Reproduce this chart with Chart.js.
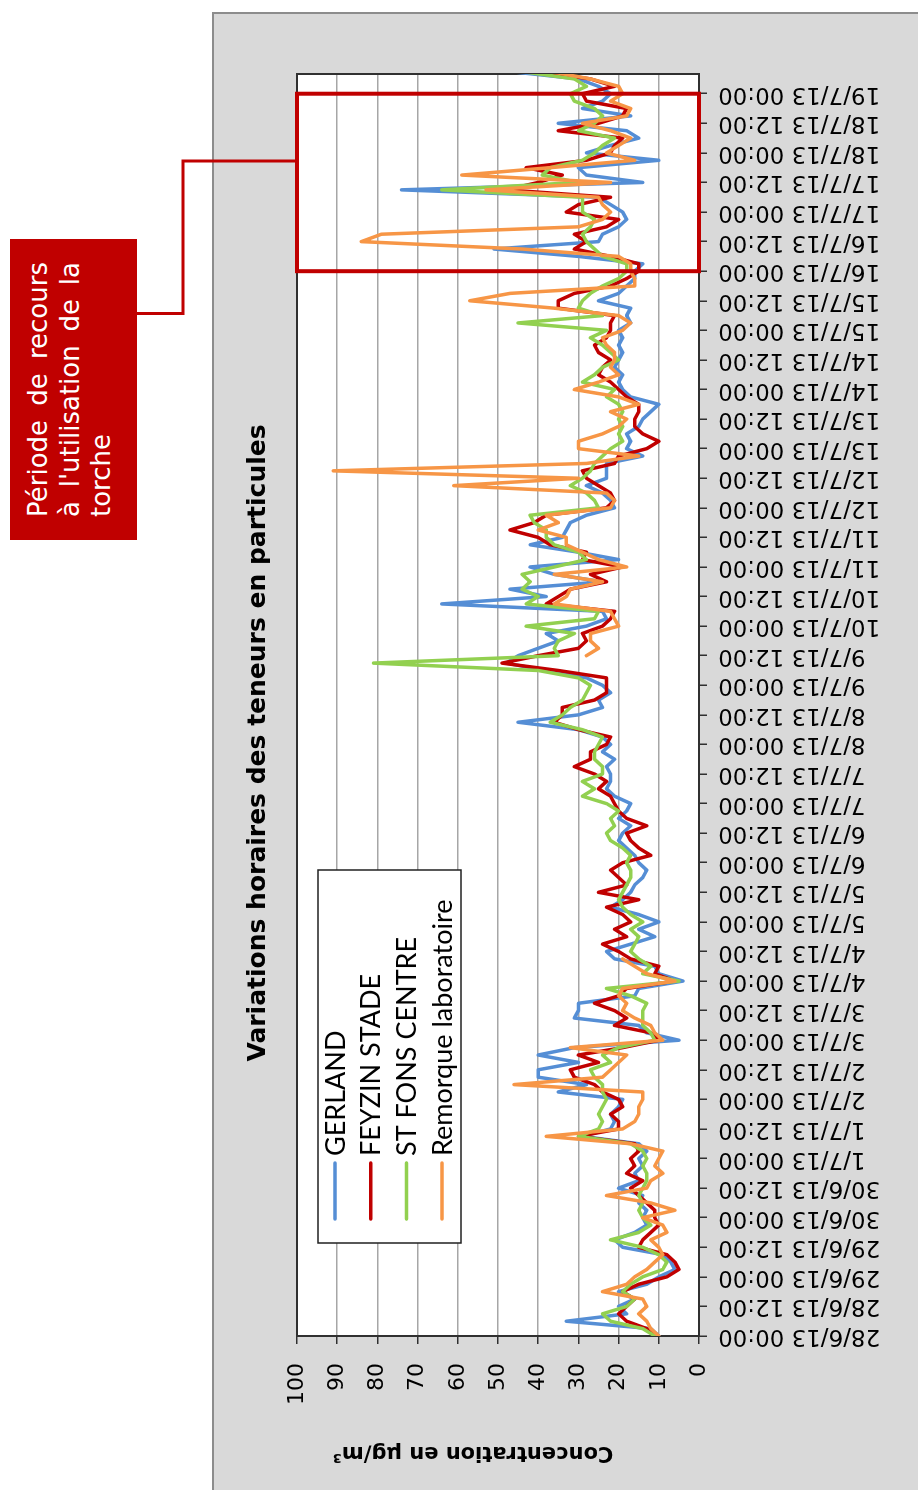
<!DOCTYPE html>
<html><head><meta charset="utf-8">
<script src="https://cdn.jsdelivr.net/npm/chart.js@4.4.0/dist/chart.umd.min.js"></script>
<style>
html,body{margin:0;padding:0;background:#fff;}
body{width:918px;height:1490px;overflow:hidden;position:relative;}
#frame{position:absolute;left:0;top:0;width:1490px;height:918px;transform-origin:0 0;transform:translateY(1490px) rotate(-90deg);}
#panel{position:absolute;left:0;top:212px;width:1478px;height:706px;background:#D9D9D9;border-top:2px solid #8C8C8C;border-right:2px solid #8C8C8C;box-sizing:border-box;}
#chart{position:absolute;left:0;top:213px;width:1476px;height:705px;}
#note{position:absolute;left:950px;top:10px;width:301px;height:127px;background:#C00000;color:#fff;font-family:'DejaVu Sans';font-size:26px;box-sizing:border-box;padding:13px 23px 0 23px;}
#note div{height:31.5px;line-height:31.5px;white-space:nowrap;}
#note .j{text-align:justify;text-align-last:justify;}
#link{position:absolute;left:0;top:0;}
</style></head>
<body>
<div id="frame">
  <div id="panel"></div>
  <canvas id="chart" width="1476" height="705"></canvas>
  <div id="note"><div class="j">Période de recours</div><div class="j">à l'utilisation de la</div><div>torche</div></div>
  <svg id="link" width="1490" height="918"><polyline points="1176.5,137 1176.5,183 1329,183 1329,297" fill="none" stroke="#C00000" stroke-width="3"/></svg>
</div>
<script>
// hours since 28/6/13 00:00, one value every 3 hours
const hours = Array.from({length: 172}, (_, i) => i * 3);

const tickLabels = [
 "28/6/13 00:00","28/6/13 12:00","29/6/13 00:00","29/6/13 12:00","30/6/13 00:00","30/6/13 12:00",
 "1/7/13 00:00","1/7/13 12:00","2/7/13 00:00","2/7/13 12:00","3/7/13 00:00","3/7/13 12:00",
 "4/7/13 00:00","4/7/13 12:00","5/7/13 00:00","5/7/13 12:00","6/7/13 00:00","6/7/13 12:00",
 "7/7/13 00:00","7/7/13 12:00","8/7/13 00:00","8/7/13 12:00","9/7/13 00:00","9/7/13 12:00",
 "10/7/13 00:00","10/7/13 12:00","11/7/13 00:00","11/7/13 12:00","12/7/13 00:00","12/7/13 12:00",
 "13/7/13 00:00","13/7/13 12:00","14/7/13 00:00","14/7/13 12:00","15/7/13 00:00","15/7/13 12:00",
 "16/7/13 00:00","16/7/13 12:00","17/7/13 00:00","17/7/13 12:00","18/7/13 00:00","18/7/13 12:00",
 "19/7/13 00:00"];

const yTicks = [0,10,20,30,40,50,60,70,80,90,100];

const gerland = [10,12,33,18,20,16,20,13,10,6,7,9,19,21,16,13,14,13,15,14,20,15,16,14,15,13,15,29,22,21,22,
 20,19,35,28,40,40,30,40,31,5,13,15,31,30,30,16,15,4,10,11,21,23,17,11,15,10,15,22,
 19,17,16,14,13,15,16,18,20,19,17,20,18,17,21,23,22,22,23,21,24,22,24,30,45,30,24,25,22,
 24,28,38,48,45,40,35,38,28,23,24,64,38,47,24,36,42,20,30,42,34,33,32,28,21,22,24,28,
 23,23,23,14,18,17,18,15,14,12,10,17,19,20,19,21,20,19,20,19,20,17,18,17,25,20,18,16,
 16,14,30,51,25,24,20,18,19,22,25,74,14,28,30,10,28,22,15,18,35,17,29,24,22,25,30,47];

const feyzin = [11,13,18,20,18,16,19,15,8,5,6,8,15,14,12,10,11,11,13,15,17,14,18,16,17,15,16,30,20,20,22,
 19,20,24,26,31,32,25,30,19,10,12,21,18,21,26,20,18,6,11,10,17,20,24,18,21,17,19,23,
 15,25,18,20,22,19,12,15,17,18,13,18,20,21,22,25,23,26,31,27,27,23,22,30,36,34,34,26,23,
 23,23,35,49,40,30,28,29,24,22,21,38,35,32,23,27,19,29,28,37,40,47,41,38,23,21,22,25,
 28,29,21,20,13,10,14,16,16,15,15,18,20,22,25,24,22,25,26,23,22,22,21,35,35,31,22,18,
 15,15,22,31,28,31,23,20,33,30,22,48,40,34,43,28,22,21,19,35,25,19,18,28,29,21,27,40];

const stFons = [11,14,22,24,18,16,19,17,14,9,8,10,14,22,15,12,14,15,14,15,14,13,13,14,13,14,17,30,25,24,25,
 24,23,24,24,26,27,22,24,20,11,12,14,14,14,13,17,23,5,14,12,15,17,16,15,17,14,17,19,
 20,19,18,17,17,18,17,19,22,23,21,22,20,23,29,26,29,24,24,26,26,25,24,29,37,34,32,29,28,
 27,30,40,81,35,36,35,31,43,26,25,43,40,44,42,44,36,28,30,36,38,38,41,42,25,26,28,32,
 29,27,26,24,22,19,20,19,20,19,20,23,21,29,26,24,20,22,24,27,23,45,24,30,29,27,24,20,
 18,18,24,26,28,29,27,26,29,29,29,64,30,39,37,29,26,24,21,30,26,24,26,31,32,28,31,44];

const remorque = [10,12,13,15,13,14,24,18,16,13,11,9,10,12,8,9,14,6,12,23,13,12,9,11,10,9,17,38,19,16,15,
 15,14,14,46,24,22,20,18,32,9,11,12,16,19,18,20,19,6,13,16,19,
 null,null,null,null,null,null,null,null,null,null,null,null,null,null,null,null,null,null,null,null,
 null,null,null,null,null,null,null,null,null,null,null,null,null,null,null,null,null,null,null,null,
 28,25,27,27,20,21,22,36,33,32,24,36,18,25,29,33,33,40,35,38,22,21,23,61,
 30,91,28,15,30,30,24,20,18,22,15,20,31,25,20,22,21,21,23,24,19,17,20,36,57,47,16,16,
 17,17,20,44,84,79,30,24,22,24,25,53,22,59,37,16,23,20,17,22,29,18,17,22,19,20,27,37];

const seriesNames = ["GERLAND","FEYZIN STADE","ST FONS CENTRE","Remorque laboratoire"];
const seriesColors = ["#558ED5","#C00000","#92D050","#F79646"];
const torchHours = [432, 504]; // 16/7/13 00:00 -> 19/7/13 00:00
const titleText = "Variations horaires des teneurs en particules";
const yTitleText = "Concentration en µg/m³";

const decor = {
  id: 'decor',
  beforeDraw(c) {
    const {ctx, chartArea: a} = c;
    ctx.save();
    ctx.fillStyle = '#fff';
    ctx.fillRect(a.left, a.top, a.right - a.left, a.bottom - a.top);
    ctx.restore();
  },
  beforeDatasetsDraw(c) {
    const {ctx, chartArea: a} = c;
    ctx.save();
    ctx.strokeStyle = '#303030';
    ctx.lineWidth = 2;
    ctx.strokeRect(a.left, a.top, a.right - a.left, a.bottom - a.top);
    ctx.restore();
  },
  afterDatasetsDraw(c) {
    const {ctx, chartArea: a, scales} = c;
    ctx.save();
    // legend inside the plot
    const lx0 = 247, ly0 = 105, lx1 = 620, ly1 = 248;
    ctx.fillStyle = '#fff';
    ctx.fillRect(lx0, ly0, lx1 - lx0, ly1 - ly0);
    ctx.strokeStyle = '#202020';
    ctx.lineWidth = 1.5;
    ctx.strokeRect(lx0, ly0, lx1 - lx0, ly1 - ly0);
    c.data.datasets.forEach((ds, i) => {
      const y = 122 + i * 35.7;
      ctx.strokeStyle = ds.borderColor;
      ctx.lineWidth = 3.5;
      ctx.lineCap = 'round';
      ctx.beginPath(); ctx.moveTo(271, y); ctx.lineTo(327, y); ctx.stroke();
      ctx.fillStyle = '#000';
      ctx.font = '27px Lato';
      ctx.textAlign = 'left';
      ctx.textBaseline = 'middle';
      ctx.fillText(ds.label, 334, y + 1);
    });
    // torch period rectangle
    const x0 = scales.x.getPixelForValue(torchHours[0]);
    const x1 = scales.x.getPixelForValue(torchHours[1]);
    const y0 = scales.y.getPixelForValue(100);
    const y1 = scales.y.getPixelForValue(0);
    ctx.strokeStyle = '#C00000';
    ctx.lineWidth = 4;
    ctx.strokeRect(x0, y0, x1 - x0, y1 - y0);
    ctx.restore();
  },
  afterDraw(c) {
    const {ctx} = c;
    ctx.save();
    ctx.fillStyle = '#000';
    ctx.font = 'bold 25px "DejaVu Sans"';
    ctx.textAlign = 'center';
    ctx.textBaseline = 'middle';
    ctx.fillText(titleText, 747, 45);
    ctx.translate(38, 260);
    ctx.rotate(-Math.PI / 2);
    ctx.font = 'bold 21px "DejaVu Sans"';
    ctx.fillText(yTitleText, 0, 0);
    ctx.restore();
  }
};

const mk = (i, data, order) => ({
  label: seriesNames[i], data, borderColor: seriesColors[i], backgroundColor: seriesColors[i],
  borderWidth: 3.5, pointRadius: 0, tension: 0, spanGaps: false, order,
  borderJoinStyle: 'round', borderCapStyle: 'round'
});

new Chart(document.getElementById('chart'), {
  type: 'line',
  data: {
    labels: hours,
    datasets: [mk(0, gerland, 3), mk(1, feyzin, 2), mk(2, stFons, 1), mk(3, remorque, 0)]
  },
  options: {
    responsive: false,
    animation: false,
    layout: {padding: {top: 84, right: 60, left: 0, bottom: 0}},
    plugins: {legend: {display: false}, title: {display: false}, tooltip: {enabled: false}},
    scales: {
      x: {
        type: 'linear', min: 0, max: 512,
        afterBuildTicks: (s) => { s.ticks = tickLabels.map((_, i) => ({value: i * 12})); },
        afterFit: (s) => { s.height = 219; },
        ticks: {
          autoSkip: false, maxRotation: 90, minRotation: 90, padding: 11, color: '#000',
          font: {family: 'DejaVu Sans', size: 23},
          callback: (v) => tickLabels[Math.round(v / 12)]
        },
        grid: {drawOnChartArea: false, drawTicks: true, tickLength: 8, color: '#303030', lineWidth: 1.5},
        border: {display: false}
      },
      y: {
        min: 0, max: 100,
        afterBuildTicks: (s) => { s.ticks = yTicks.map(v => ({value: v})); },
        afterFit: (s) => { s.width = 154; },
        ticks: {padding: 19, color: '#000', font: {family: 'DejaVu Sans', size: 22}},
        grid: {color: '#A6A6A6', lineWidth: 1.5, tickLength: 8, tickColor: '#303030'},
        border: {display: false}
      }
    }
  },
  plugins: [decor]
});
</script>
</body></html>
